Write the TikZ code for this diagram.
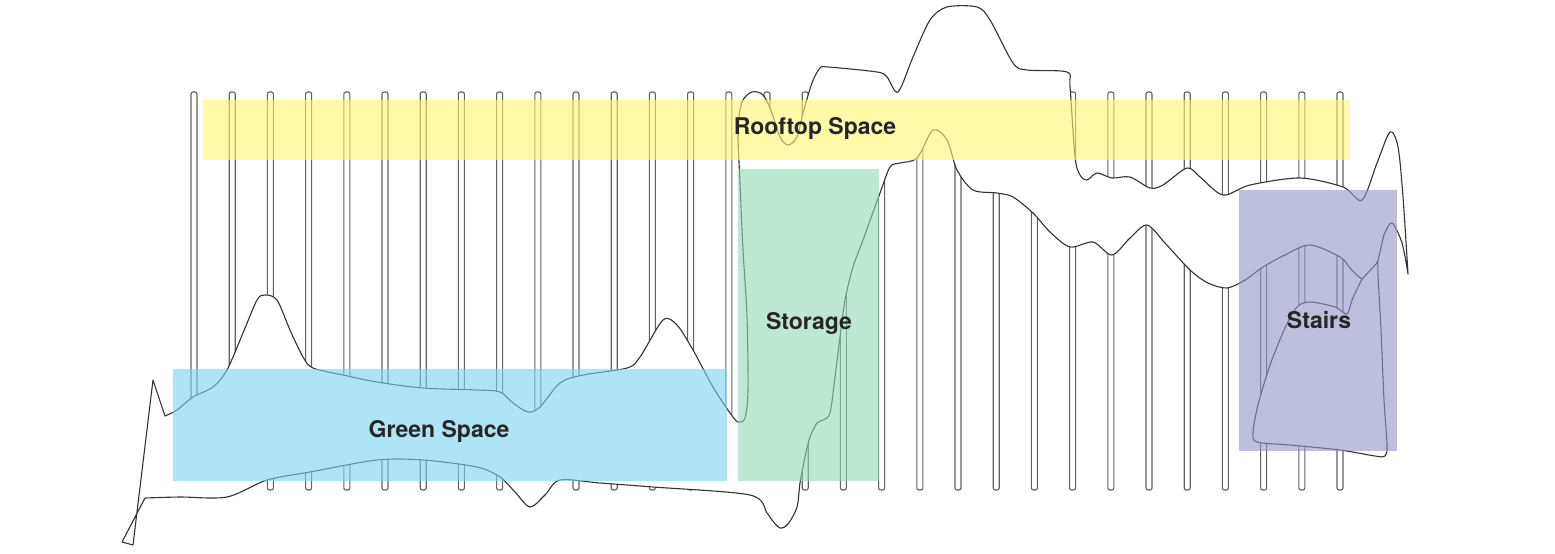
\documentclass[tikz,border=0pt]{standalone}
\usepackage{fontspec}
\setmainfont{TeX Gyre Heros}
\usetikzlibrary{positioning}
\definecolor{roofyellow}{RGB}{255,245,113}
\definecolor{greenblue}{RGB}{123,210,243}
\definecolor{storegreen}{RGB}{147,217,183}
\definecolor{stairviolet}{RGB}{147,147,200}

\begin{document}
\begin{tikzpicture}[x=1pt, y=-1pt,
      bar/.style={draw=black!62, line width=1.1pt, rounded corners=2pt},
      outline/.style={draw=black!80, line width=1.1pt, fill=white, line join=round},
      zone/.style={fill opacity=0.6},
      lbl/.style={font=\fontsize{23}{26}\selectfont\bfseries, text=black!85, anchor=base, inner sep=0pt}]
    \fill[white] (0,0) rectangle (1555,554);
    \useasboundingbox (0,0) rectangle (1555,554);
    % columns
    \foreach \i in {0,...,30}
      \draw[bar] ({194+38.2*\i-3},92) rectangle ({194+38.2*\i+3},490);
    % sketched outline
    \draw[outline] (153,380) -- plot[smooth] coordinates {(165,416) (177,410) (193,397) (213,387) (227,370)
        (243,333) (257,300) (265,295) (277,300) (290,330) (303,357) (313,368) (343,375) (377,382)
        (423,388) (477,390) (500,392) (513,403) (528,412) (540,407) (560,383) (583,375) (627,368)
        (640,357) (663,320) (677,325) (693,350) (713,387) (730,413) (738,422) (745,418) (748,390)
        (747,317) (743,250) (740,183) (738,130) (742,102) (752,92) (763,95) (772,113) (780,137)
        (788,145) (797,137) (803,113) (812,83) (820,68) (828,67) (877,72) (887,77) (898,92)
        (913,57) (930,20) (947,7) (977,7) (990,20) (1013,63) (1027,70) (1067,72) (1070,87)
        (1075,157) (1080,175) (1087,180) (1097,173) (1112,178) (1130,177) (1150,188) (1163,185)
        (1187,168) (1200,177) (1223,195) (1250,185) (1300,178) (1343,187) (1362,200) (1377,163)
        (1390,132) (1398,147) (1403,197) (1408,274)}
      -- plot[smooth] coordinates {(1408,274) (1402,243) (1392,223) (1384,235) (1378,260) (1370,275)
        (1362,279) (1350,268) (1340,257) (1310,245) (1285,255) (1263,267) (1245,280) (1227,288)
        (1208,283) (1190,270) (1165,243) (1147,225) (1130,238) (1112,255) (1093,242) (1070,247)
        (1050,232) (1033,213) (1013,197) (997,193) (973,190) (957,170) (947,140) (933,130)
        (917,158) (900,163) (890,167) (880,193) (863,240) (853,267) (845,300) (840,337) (835,377)
        (830,413) (823,420) (817,423) (810,437) (805,457) (800,483) (797,507) (788,524) (780,528)
        (772,520) (767,513) (750,495) (653,487) (600,483) (560,480) (545,495) (530,507) (515,492)
        (500,477) (477,467) (423,460) (377,460) (310,472) (267,480) (227,497) (180,497) (145,498)}
      -- (122,542) -- (133,545) -- cycle;
    % stairs loop
    \draw[outline] plot[smooth] coordinates {(1362,279) (1352,300) (1347,314) (1335,307) (1310,302)
        (1297,307) (1285,328) (1270,365) (1258,405) (1253,432) (1257,442) (1290,445) (1340,450)
        (1375,456) (1385,456) (1387,445) (1384,400) (1381,330) (1378,275) (1378,262)} -- cycle;
    % programme zones
    \fill[zone, roofyellow] (203,100) rectangle (1350,160);
    \fill[zone, greenblue] (173,369) rectangle (727,481);
    \fill[zone, storegreen] (738,169) rectangle (879,481);
    \fill[zone, stairviolet] (1239,190) rectangle (1397,451);
    \node[lbl] (roof) at (815,134) {Rooftop Space};
    \node[lbl] (store) at (809,329) {Storage};
    \node[lbl] (green) at (439,437) {Green Space};
    \node[lbl] (stair) at (1319,328) {Stairs};
  \end{tikzpicture}
\end{document}
